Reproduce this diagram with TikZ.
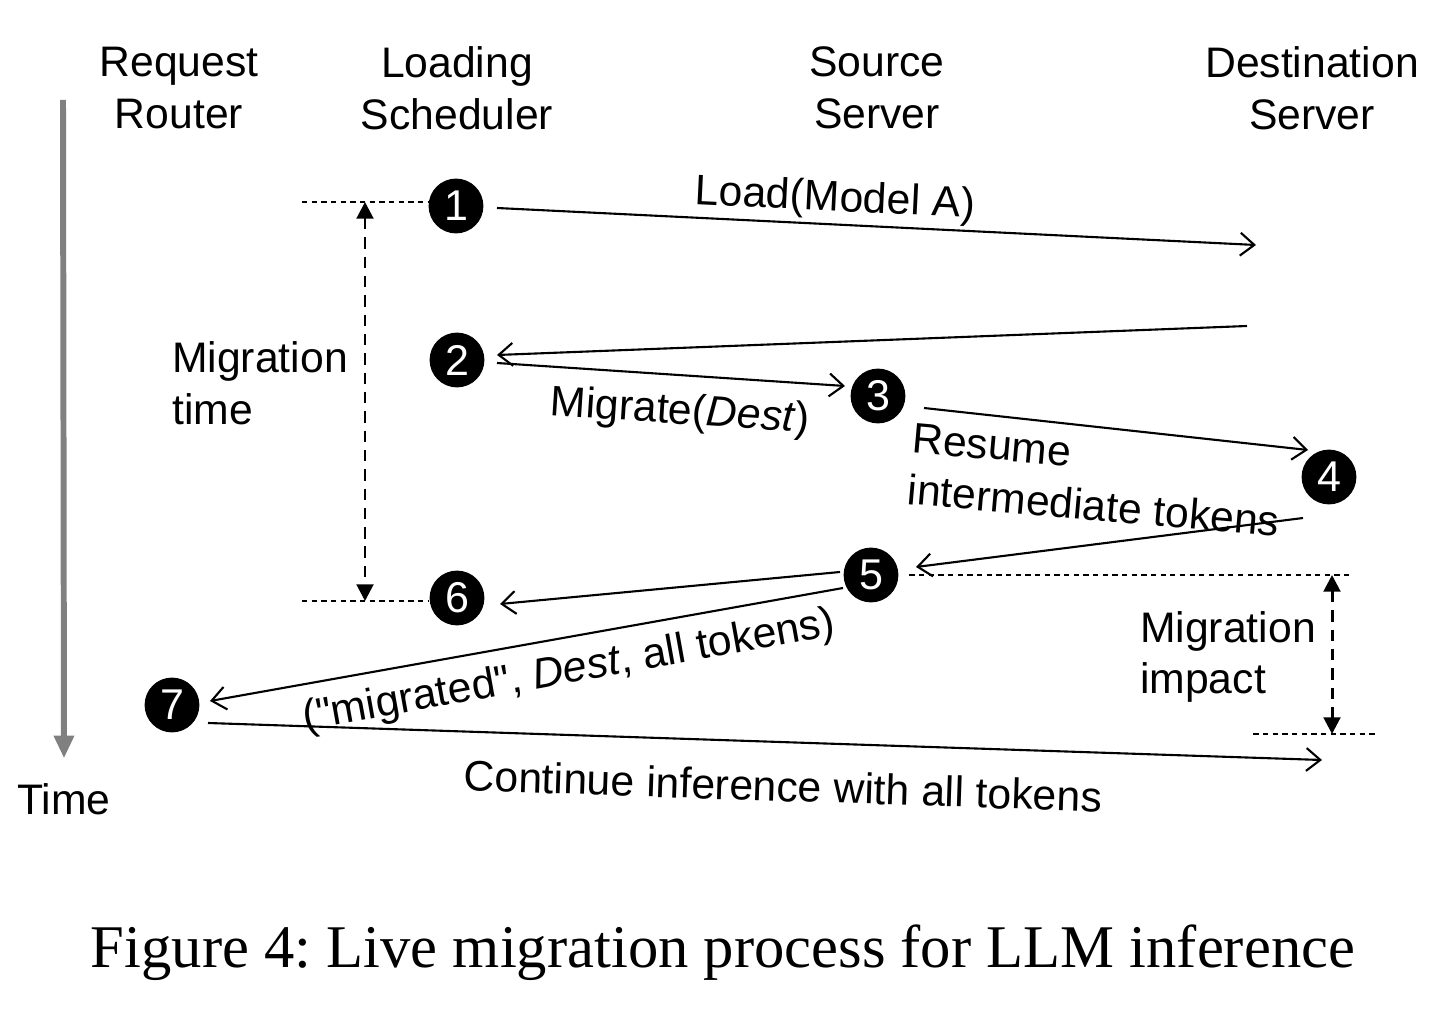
\documentclass[tikz,border=0pt]{standalone}
\usepackage{fontspec}
\setmainfont{Liberation Sans}[Ligatures=TeXOff]
\newfontfamily\capfont{Liberation Serif}
\usetikzlibrary{arrows.meta}
\frenchspacing

\begin{document}
\begin{tikzpicture}[x=0.02cm,y=-0.02cm,font=\fontsize{24.3}{29.5}\selectfont,
num/.style={circle,fill=black,text=white,inner sep=0pt,minimum size=31.2pt,font=\fontsize{24.5}{24.5}\selectfont},
lbl/.style={inner sep=0pt,align=center},
msg/.style={-{Straight Barb[length=8pt,width=13pt]},line width=1.2pt},
guide/.style={dash pattern=on 3pt off 2.5pt,line width=0.8pt},
span/.style={{Triangle[length=9.5pt,width=9.5pt]}-{Triangle[length=9.5pt,width=9.5pt]},dash pattern=on 6.5pt off 4.5pt,line width=1.7pt},
timeline/.style={-{Triangle[length=13pt,width=11pt]},line width=3.4pt,draw=gray}]
\useasboundingbox (0,0) rectangle (1447,1020);
% lanes
\node[lbl] (router) at (179,88) {Request\\Router};
\node[lbl] (sched) at (457,88) {Loading\\Scheduler};
\node[lbl] (src) at (877,88) {Source\\Server};
\node[lbl] (dst) at (1312,88) {Destination\\Server};
\node[lbl] (time) at (64,799) {Time};
\coordinate (t0) at (63,100);
\draw[timeline] (t0) -- ([yshift=14pt]time.north);
% steps
\node[num] (s1) at (456,206) {1};
\node[num] (s2) at (457,360) {2};
\node[num] (s3) at (878,396) {3};
\node[num] (s4) at (1329,477) {4};
\node[num] (s5) at (871,575) {5};
\node[num] (s6) at (457,598) {6};
\node[num] (s7) at (172,705) {7};
\coordinate (dload) at (1256,245);
\coordinate (dback) at (1247,326);
\coordinate (dcont) at (1322,760);
% messages
\draw[msg] ([shift={(41,2)}]s1.center) -- (dload);
\draw[msg] (dback) -- ([shift={(40,-5)}]s2.center);
\draw[msg] ([shift={(40,3)}]s2.center) -- ([shift={(-33,-10)}]s3.center);
\draw[msg] ([shift={(46,12)}]s3.center) -- ([shift={(-21,-27)}]s4.center);
\draw[msg] ([shift={(-26,41)}]s4.center) -- ([shift={(45,-8)}]s5.center);
\draw[msg] ([shift={(-31,-3)}]s5.center) -- ([shift={(43,6)}]s6.center);
\draw[msg] ([shift={(-28,13)}]s5.center) -- ([shift={(38,-4)}]s7.center);
\draw[msg] ([shift={(36,18)}]s7.center) -- (dcont);
\node[lbl,rotate=-2.8] (loadlbl) at (835,200) {Load(Model A)};
\node[lbl,rotate=-3.8] (miglbl) at (680,413) {Migrate(\textit{Dest})};
\node[lbl,align=left,rotate=-5] (reslbl) at (1096,480) {Resume\\intermediate tokens};
\node[lbl,rotate=10.2] (donelbl) at (569,672) {("migrated", \textit{Dest}, all tokens)};
\node[lbl,rotate=-1.9] (contlbl) at (783,786) {Continue inference with all tokens};
% spans
\node[lbl,align=left] (mtime) at (260,383) {Migration\\time};
\coordinate (tl) at (302,202);
\coordinate (bl) at (302,601);
\coordinate (mt1) at (365,202);
\coordinate (mt2) at (365,601);
\draw[guide] (tl) -- (tl -| s1.west);
\draw[guide] (bl) -- (bl -| s6.west);
\draw[span] (mt1) -- (mt2);
\node[lbl,align=left] (mimpact) at (1228,657) {Migration\\impact};
\coordinate (ia) at (1332,575);
\coordinate (ib) at (1332,734);
\draw[guide] ([xshift=6pt]s5.east) -- ([xshift=11.3pt]ia);
\draw[guide] ([xshift=-44.8pt]ib) -- ([xshift=26pt]ib);
\draw[span] (ia) -- (ib);
% caption
\node[lbl,font=\capfont\fontsize{34.5}{40}\selectfont] (cap) at (723,953) {Figure 4: Live migration process for LLM inference};
\end{tikzpicture}
\end{document}
